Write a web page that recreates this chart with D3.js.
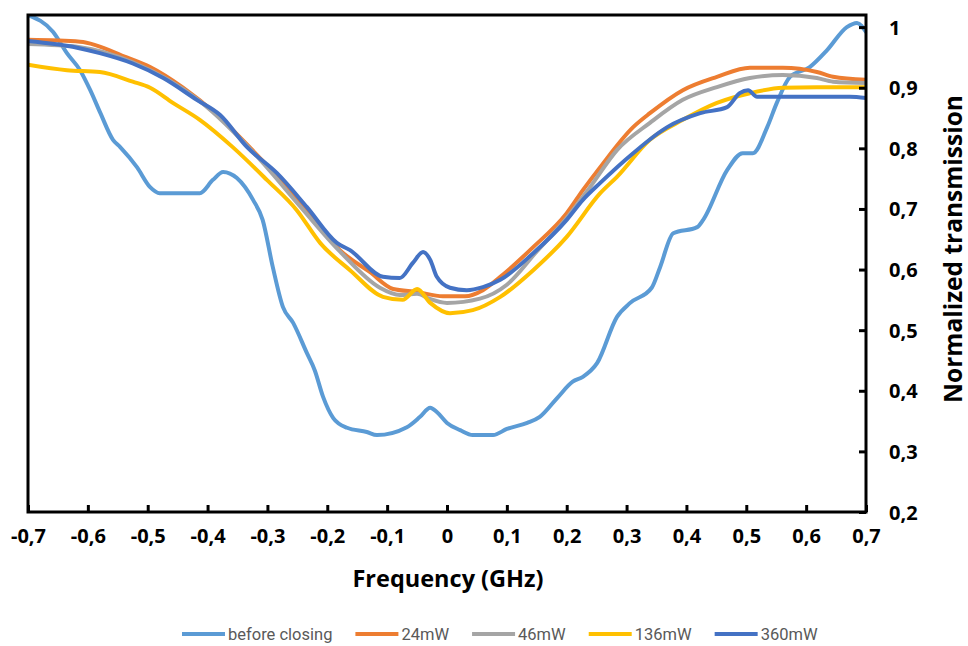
<!DOCTYPE html>
<html>
<head>
<meta charset="utf-8">
<script src="https://cdn.jsdelivr.net/npm/d3@7"></script>
<style>
  body { margin: 0; background: #fff; }
  svg { display: block; }
</style>
</head>
<body>
<svg id="chart"></svg>
<script>
// series names & colours (Excel default palette)
const seriesNames = ["before closing", "24mW", "46mW", "136mW", "360mW"];
const seriesColors = ["#5B9BD5", "#ED7D31", "#A5A5A5", "#FFC000", "#4472C4"];

// [frequency GHz, normalized transmission]
const beforeClosing = [
  [-0.700, 1.020], [-0.658, 0.992], [-0.635, 0.957], [-0.613, 0.929], [-0.596, 0.896],
  [-0.579, 0.858], [-0.558, 0.814], [-0.546, 0.802], [-0.518, 0.769], [-0.496, 0.736],
  [-0.480, 0.726], [-0.413, 0.726], [-0.391, 0.748], [-0.374, 0.761], [-0.351, 0.751],
  [-0.324, 0.715], [-0.308, 0.682], [-0.291, 0.604], [-0.274, 0.538], [-0.257, 0.512],
  [-0.234, 0.462], [-0.221, 0.434], [-0.207, 0.390], [-0.190, 0.355], [-0.167, 0.339],
  [-0.134, 0.332], [-0.117, 0.327], [-0.067, 0.340], [-0.045, 0.357], [-0.028, 0.372],
  [-0.017, 0.365], [0.000, 0.347], [0.022, 0.335], [0.043, 0.327], [0.077, 0.327],
  [0.100, 0.337], [0.134, 0.347], [0.155, 0.357], [0.184, 0.388], [0.210, 0.415],
  [0.227, 0.423], [0.251, 0.446], [0.284, 0.522], [0.306, 0.545], [0.342, 0.570],
  [0.356, 0.604], [0.378, 0.660], [0.418, 0.670], [0.428, 0.682], [0.468, 0.764],
  [0.494, 0.792], [0.511, 0.792], [0.535, 0.835], [0.551, 0.875], [0.573, 0.918],
  [0.606, 0.934], [0.635, 0.962], [0.668, 1.000], [0.685, 1.007], [0.700, 0.992]
];

const mw24 = [
  [-0.700, 0.979], [-0.613, 0.976], [-0.535, 0.950], [-0.496, 0.934], [-0.441, 0.900],
  [-0.384, 0.855], [-0.329, 0.801], [-0.274, 0.743], [-0.229, 0.690], [-0.179, 0.632],
  [-0.129, 0.596], [-0.090, 0.568], [-0.050, 0.563], [-0.007, 0.556], [0.030, 0.556],
  [0.060, 0.566], [0.089, 0.588], [0.144, 0.637], [0.200, 0.693], [0.227, 0.731],
  [0.256, 0.769], [0.311, 0.835], [0.339, 0.858], [0.394, 0.896], [0.451, 0.918],
  [0.506, 0.933], [0.561, 0.933], [0.618, 0.926], [0.645, 0.918], [0.700, 0.913]
];

const mw46 = [
  [-0.700, 0.972], [-0.613, 0.967], [-0.525, 0.942], [-0.413, 0.878], [-0.312, 0.781],
  [-0.246, 0.705], [-0.179, 0.630], [-0.112, 0.570], [-0.079, 0.558], [-0.050, 0.560],
  [-0.030, 0.552], [0.000, 0.545], [0.055, 0.552], [0.100, 0.575], [0.150, 0.630],
  [0.200, 0.685], [0.239, 0.736], [0.284, 0.797], [0.339, 0.842], [0.394, 0.880],
  [0.451, 0.901], [0.506, 0.916], [0.561, 0.921], [0.618, 0.916], [0.645, 0.910],
  [0.700, 0.908]
];

const mw136 = [
  [-0.700, 0.938], [-0.635, 0.929], [-0.580, 0.926], [-0.525, 0.910], [-0.496, 0.900],
  [-0.458, 0.875], [-0.413, 0.847], [-0.358, 0.802], [-0.301, 0.748], [-0.251, 0.698],
  [-0.212, 0.644], [-0.162, 0.599], [-0.107, 0.555], [-0.074, 0.550], [-0.050, 0.568],
  [-0.028, 0.545], [0.005, 0.528], [0.043, 0.533], [0.089, 0.555], [0.144, 0.599],
  [0.200, 0.654], [0.256, 0.726], [0.284, 0.753], [0.339, 0.814], [0.394, 0.847],
  [0.451, 0.875], [0.506, 0.891], [0.561, 0.900], [0.618, 0.901], [0.700, 0.901]
];

const mw360 = [
  [-0.700, 0.977], [-0.618, 0.966], [-0.580, 0.957], [-0.525, 0.940], [-0.474, 0.916],
  [-0.418, 0.880], [-0.379, 0.855], [-0.334, 0.802], [-0.284, 0.759], [-0.234, 0.703],
  [-0.184, 0.644], [-0.162, 0.632], [-0.107, 0.588], [-0.079, 0.586], [-0.057, 0.611],
  [-0.040, 0.629], [-0.028, 0.616], [-0.017, 0.588], [0.005, 0.570], [0.033, 0.566],
  [0.060, 0.571], [0.089, 0.583], [0.144, 0.627], [0.200, 0.682], [0.227, 0.715],
  [0.256, 0.743], [0.311, 0.792], [0.368, 0.835], [0.423, 0.858], [0.468, 0.868],
  [0.489, 0.891], [0.503, 0.896], [0.518, 0.885], [0.561, 0.885], [0.618, 0.885],
  [0.673, 0.885], [0.700, 0.883]
];

const seriesData = [beforeClosing, mw24, mw46, mw136, mw360];

const xTicks = [-0.7, -0.6, -0.5, -0.4, -0.3, -0.2, -0.1, 0, 0.1, 0.2, 0.3, 0.4, 0.5, 0.6, 0.7];
const yTicks = [0.2, 0.3, 0.4, 0.5, 0.6, 0.7, 0.8, 0.9, 1];

const width = 968;
const height = 646;
const margin = { left: 28, top: 15, right: 102, bottom: 134 };

const svg = d3.select("#chart")
  .attr("width", width)
  .attr("height", height)
  .attr("viewBox", `0 0 ${width} ${height}`);

const x = d3.scaleLinear().domain([-0.7, 0.7]).range([margin.left, width - margin.right]);
const y = d3.scaleLinear().domain([0.2, 1.02]).range([height - margin.bottom, margin.top]);

// comma as decimal separator, plain hyphen for negatives
const fmt = (d) => String(Math.round(d * 10) / 10).replace(".", ",");

const tickFont = "'Open Sans', sans-serif";

// clip for the curves
svg.append("clipPath").attr("id", "plot-clip")
  .append("rect")
  .attr("x", x.range()[0])
  .attr("y", y.range()[1])
  .attr("width", x.range()[1] - x.range()[0])
  .attr("height", y.range()[0] - y.range()[1]);

const line = d3.line()
  .x((d) => x(d[0]))
  .y((d) => y(d[1]))
  .curve(d3.curveMonotoneX);

const plot = svg.append("g").attr("clip-path", "url(#plot-clip)");

seriesData.forEach((data, i) => {
  plot.append("path")
    .datum(data)
    .attr("d", line)
    .attr("fill", "none")
    .attr("stroke", seriesColors[i])
    .attr("stroke-width", 4)
    .attr("stroke-linejoin", "round")
    .attr("stroke-linecap", "round");
});

// bottom axis, ticks pointing inward
const xAxis = svg.append("g")
  .attr("transform", `translate(0, ${y(0.2)})`)
  .call(d3.axisBottom(x).tickValues(xTicks).tickFormat(fmt).tickSize(-7).tickSizeOuter(0).tickPadding(31));
xAxis.select(".domain").remove();
xAxis.selectAll(".tick line").attr("stroke", "#000").attr("stroke-width", 3);
xAxis.selectAll(".tick text")
  .attr("dy", 0)
  .attr("fill", "#000")
  .style("font-family", tickFont)
  .style("font-weight", 700)
  .style("font-size", "20px");

// right axis, ticks pointing inward, labels left-aligned
const yAxis = svg.append("g")
  .attr("transform", `translate(${x(0.7)}, 0)`)
  .call(d3.axisRight(y).tickValues(yTicks).tickFormat(fmt).tickSize(-7).tickSizeOuter(0).tickPadding(23));
yAxis.select(".domain").remove();
yAxis.selectAll(".tick line").attr("stroke", "#000").attr("stroke-width", 3);
yAxis.selectAll(".tick text")
  .attr("dy", "0.35em")
  .attr("fill", "#000")
  .style("font-family", tickFont)
  .style("font-weight", 700)
  .style("font-size", "20px");

// plot frame
svg.append("rect")
  .attr("x", x.range()[0])
  .attr("y", y.range()[1])
  .attr("width", x.range()[1] - x.range()[0])
  .attr("height", y.range()[0] - y.range()[1])
  .attr("fill", "none")
  .attr("stroke", "#000")
  .attr("stroke-width", 3);

// axis titles
svg.append("text")
  .attr("x", 448)
  .attr("y", 587)
  .attr("text-anchor", "middle")
  .style("font-family", tickFont)
  .style("font-weight", 700)
  .style("font-size", "23.5px")
  .text("Frequency (GHz)");

svg.append("text")
  .attr("transform", "translate(962, 249) rotate(-90)")
  .attr("text-anchor", "middle")
  .style("font-family", tickFont)
  .style("font-weight", 700)
  .style("font-size", "24.5px")
  .text("Normalized transmission");

// legend, laid out left to right
const legend = svg.append("g").attr("transform", "translate(182, 634)");
let lx = 0;
seriesNames.forEach((name, i) => {
  const item = legend.append("g").attr("transform", `translate(${lx}, 0)`);
  item.append("line")
    .attr("x1", 0).attr("x2", 43)
    .attr("stroke", seriesColors[i])
    .attr("stroke-width", 4);
  const t = item.append("text")
    .attr("x", 46)
    .attr("dy", "0.35em")
    .attr("fill", "#595959")
    .style("font-family", "Roboto, sans-serif")
    .style("font-size", "16.5px")
    .text(name);
  lx += 46 + t.node().getComputedTextLength() + 23;
});
</script>
</body>
</html>
